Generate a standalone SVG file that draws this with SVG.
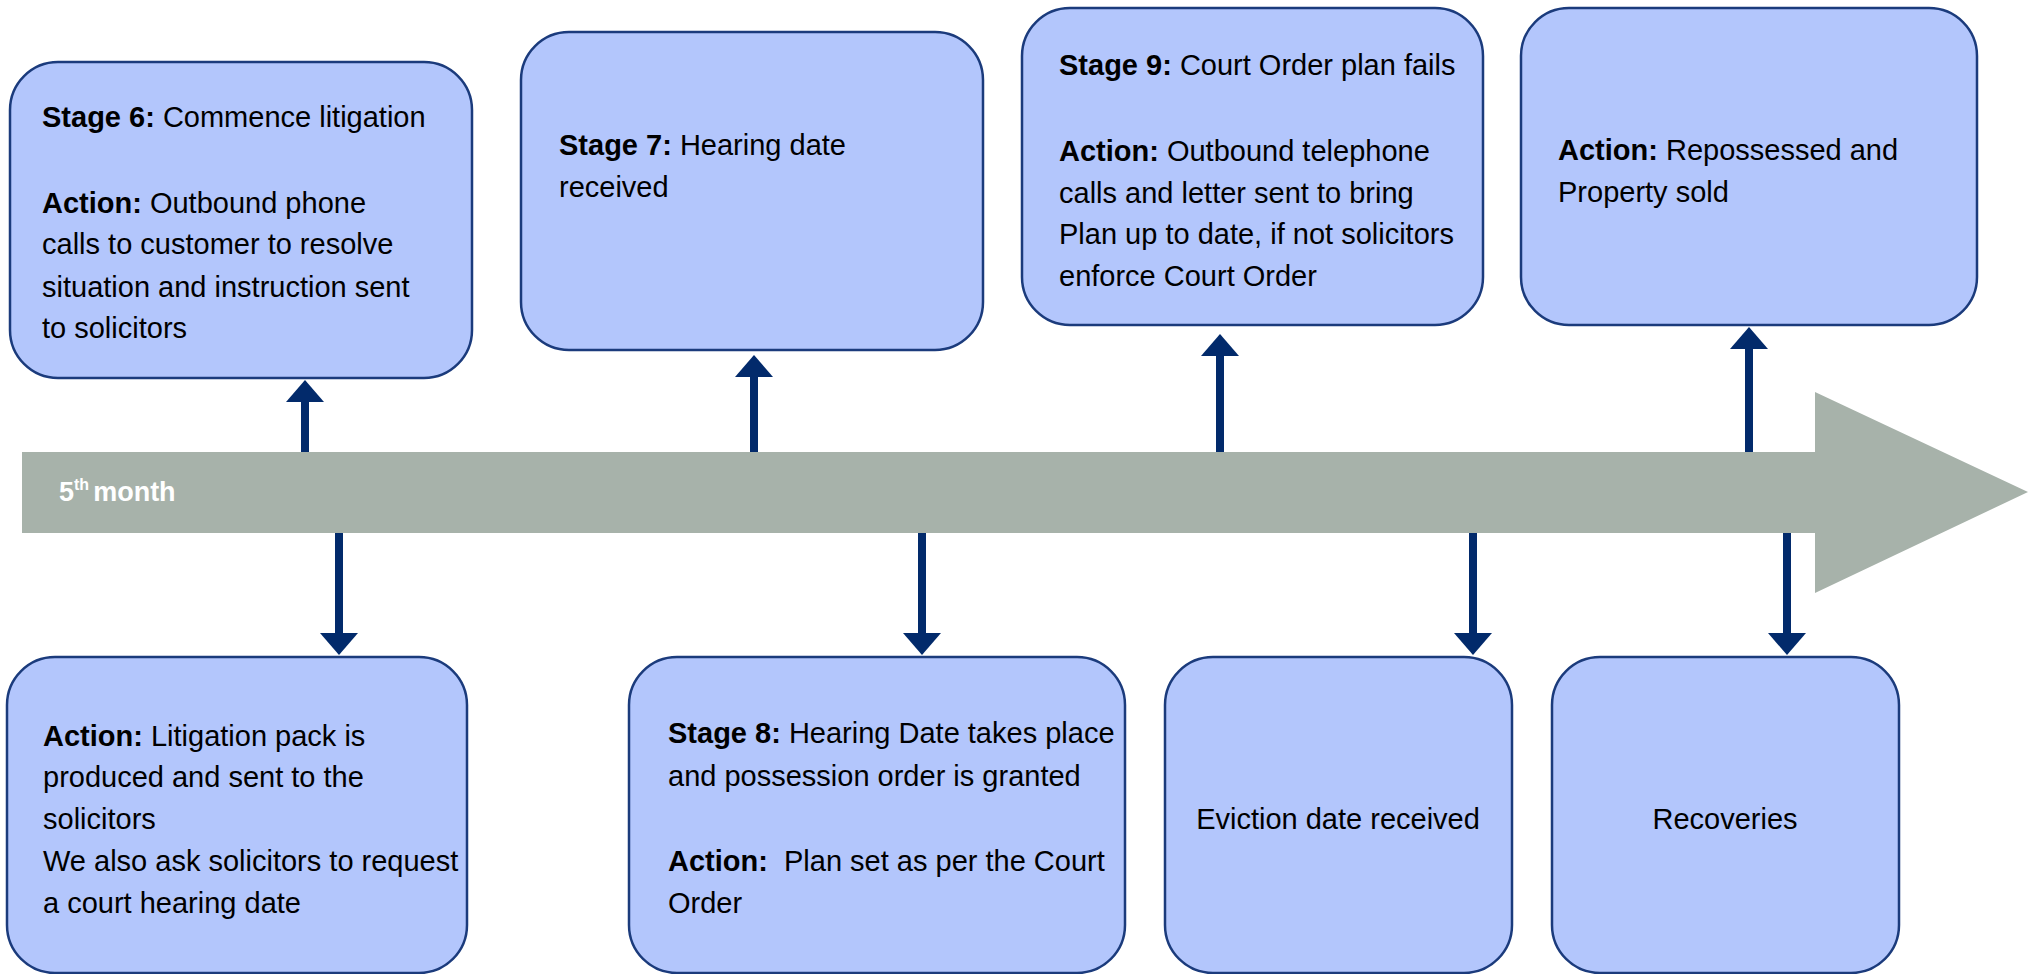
<svg xmlns="http://www.w3.org/2000/svg" width="2028" height="974" viewBox="0 0 2028 974">
<style>
.box{fill:#B3C6FC;stroke:#1B3B7C;stroke-width:2.5}
.t{font-family:"Liberation Sans",Arial,sans-serif;font-size:29px;fill:#000}
.b{font-weight:bold}
.conn{stroke:#022A6B;stroke-width:8;fill:none}
.lbl{font-family:"Liberation Sans",Arial,sans-serif;font-size:27px;font-weight:bold;fill:#fff}
</style>
<defs>
<marker id="ah" viewBox="0 0 22 38" markerWidth="22" markerHeight="38" refX="0" refY="19" orient="auto" markerUnits="userSpaceOnUse">
<path d="M0,0 L22,19 L0,38 z" fill="#022A6B"/>
</marker>
</defs>
<rect width="2028" height="974" fill="#fff"/>
<g id="timeline">
<polygon points="22,452 1815,452 1815,392 2028,492 1815,593 1815,533 22,533" fill="#A7B2AA"/>
<text class="lbl" x="59" y="501">5<tspan font-size="16" dy="-11">th</tspan><tspan dy="11" dx="4">month</tspan></text>
</g>
<g id="connectors">
<line class="conn" x1="305" y1="452" x2="305" y2="402" marker-end="url(#ah)"/>
<line class="conn" x1="754" y1="452" x2="754" y2="377" marker-end="url(#ah)"/>
<line class="conn" x1="1220" y1="452" x2="1220" y2="356" marker-end="url(#ah)"/>
<line class="conn" x1="1749" y1="452" x2="1749" y2="349" marker-end="url(#ah)"/>
<line class="conn" x1="339" y1="533" x2="339" y2="633" marker-end="url(#ah)"/>
<line class="conn" x1="922" y1="533" x2="922" y2="633" marker-end="url(#ah)"/>
<line class="conn" x1="1473" y1="533" x2="1473" y2="633" marker-end="url(#ah)"/>
<line class="conn" x1="1787" y1="533" x2="1787" y2="633" marker-end="url(#ah)"/>
</g>
<g id="stage6">
<rect class="box" x="10" y="62" width="462" height="316" rx="48"/>
<text class="t" x="42" y="127"><tspan class="b">Stage 6:</tspan> Commence litigation</text>
<text class="t" x="42" y="213"><tspan class="b">Action:</tspan> Outbound phone</text>
<text class="t" x="42" y="254">calls to customer to resolve</text>
<text class="t" x="42" y="297">situation and instruction sent</text>
<text class="t" x="42" y="338">to solicitors</text>
</g>
<g id="stage7">
<rect class="box" x="521" y="32" width="462" height="318" rx="48"/>
<text class="t" x="559" y="155"><tspan class="b">Stage 7:</tspan> Hearing date</text>
<text class="t" x="559" y="197">received</text>
</g>
<g id="stage9">
<rect class="box" x="1022" y="8" width="461" height="317" rx="48"/>
<text class="t" x="1059" y="75"><tspan class="b">Stage 9:</tspan> Court Order plan fails</text>
<text class="t" x="1059" y="161"><tspan class="b">Action:</tspan> Outbound telephone</text>
<text class="t" x="1059" y="203">calls and letter sent to bring</text>
<text class="t" x="1059" y="244">Plan up to date, if not solicitors</text>
<text class="t" x="1059" y="286">enforce Court Order</text>
</g>
<g id="repossessed">
<rect class="box" x="1521" y="8" width="456" height="317" rx="48"/>
<text class="t" x="1558" y="160"><tspan class="b">Action:</tspan> Repossessed and</text>
<text class="t" x="1558" y="202">Property sold</text>
</g>
<g id="litigation-pack">
<rect class="box" x="7" y="657" width="460" height="316" rx="48"/>
<text class="t" x="43" y="746"><tspan class="b">Action:</tspan> Litigation pack is</text>
<text class="t" x="43" y="787">produced and sent to the</text>
<text class="t" x="43" y="829">solicitors</text>
<text class="t" x="43" y="871">We also ask solicitors to request</text>
<text class="t" x="43" y="913">a court hearing date</text>
</g>
<g id="stage8">
<rect class="box" x="629" y="657" width="496" height="316" rx="48"/>
<text class="t" x="668" y="743"><tspan class="b">Stage 8:</tspan> Hearing Date takes place</text>
<text class="t" x="668" y="786">and possession order is granted</text>
<text class="t" x="668" y="871" xml:space="preserve"><tspan class="b">Action:</tspan>  Plan set as per the Court</text>
<text class="t" x="668" y="913">Order</text>
</g>
<g id="eviction">
<rect class="box" x="1165" y="657" width="347" height="316" rx="48"/>
<text class="t" x="1338" y="829" text-anchor="middle">Eviction date received</text>
</g>
<g id="recoveries">
<rect class="box" x="1552" y="657" width="347" height="316" rx="48"/>
<text class="t" x="1725" y="829" text-anchor="middle">Recoveries</text>
</g>
</svg>
